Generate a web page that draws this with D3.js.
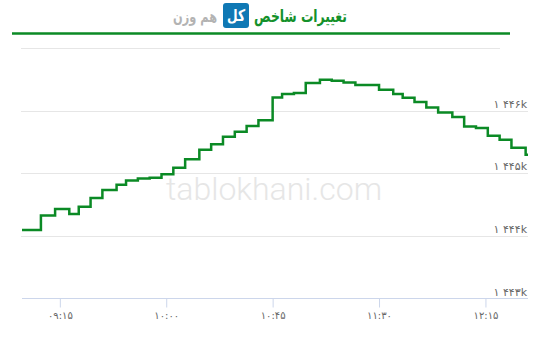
<!DOCTYPE html>
<html>
<head>
<meta charset="utf-8">
<script src="https://cdn.jsdelivr.net/npm/d3@7"></script>
<style>
  body { margin: 0; background: #fff; }
  svg { display: block; font-family: "DejaVu Sans", sans-serif; }
</style>
</head>
<body>
<svg id="chart"></svg>
<script>
// index values (step line)
var times = ["08:59","09:07","09:13","09:19","09:23","09:28","09:33","09:39","09:43","09:48","09:53",
  "09:58","10:03","10:08","10:14","10:19","10:24","10:29","10:34","10:39","10:45","10:49","10:54",
  "10:59","11:05","11:10","11:15","11:20","11:30","11:36","11:40","11:45","11:50","11:55","12:01",
  "12:06","12:11","12:16","12:21","12:26","12:32","12:33"]
var values = [1444100,1444330,1444435,1444355,1444471,1444610,1444738,1444818,1444886,1444918,1444930,
  1444989,1445089,1445228,1445376,1445467,1445584,1445664,1445755,1445850,1446211,1446265,1446281,
  1446441,1446494,1446478,1446451,1446409,1446334,1446265,1446206,1446138,1446052,1445972,1445898,
  1445748,1445723,1445600,1445536,1445408,1445297,1445297]

var yTicks = [1443000,1444000,1445000,1446000]
var yTickLabels = ["۱ ۴۴۳k","۱ ۴۴۴k","۱ ۴۴۵k","۱ ۴۴۶k"]
var xTicks = ["09:15","10:00","10:45","11:30","12:15"]
var xTickLabels = ["۰۹:۱۵","۱۰:۰۰","۱۰:۴۵","۱۱:۳۰","۱۲:۱۵"]

var screen = {width:550, height:347}
var plot = {left:22, right:528, top:48, bottom:299}

var parse = d3.timeParse("%H:%M")
var data = times.map(function(t, i){ return {t: parse(t), v: values[i]} })

var svg = d3.select("#chart")
  .attr("width", screen.width)
  .attr("height", screen.height)

var xScale = d3.scaleTime()
  .domain([parse("08:59"), parse("12:33")])
  .range([plot.left, plot.right])
var yScale = d3.scaleLinear()
  .domain([1443000, 1447000])
  .range([plot.bottom - 0.1, plot.top])

// header
svg.append("text")
  .attr("x", 347).attr("y", 22)
  .attr("text-anchor", "end")
  .attr("textLength", 93).attr("lengthAdjust", "spacingAndGlyphs")
  .style("font-size", "17px").style("font-weight", "bold")
  .attr("fill", "#14912b")
  .text("تغییرات شاخص")
svg.append("rect")
  .attr("x", 223).attr("y", 3).attr("width", 26).attr("height", 25).attr("rx", 3)
  .attr("fill", "#0f78b4")
svg.append("text")
  .attr("x", 236).attr("y", 21)
  .attr("text-anchor", "middle")
  .attr("textLength", 18).attr("lengthAdjust", "spacingAndGlyphs")
  .style("font-size", "16px").style("font-weight", "bold")
  .attr("fill", "#fff")
  .text("کل")
svg.append("text")
  .attr("x", 217).attr("y", 22)
  .attr("text-anchor", "end")
  .attr("textLength", 44).attr("lengthAdjust", "spacingAndGlyphs")
  .style("font-size", "16px").style("font-weight", "bold")
  .attr("fill", "#b3b3b3")
  .text("هم وزن")
svg.append("line")
  .attr("x1", 12).attr("x2", 510).attr("y1", 33.5).attr("y2", 33.5)
  .attr("stroke", "#0b8a25").attr("stroke-width", 2.5)

// watermark
svg.append("text")
  .attr("x", 274).attr("y", 200)
  .attr("text-anchor", "middle")
  .style("font-family", "Roboto").style("font-weight", 300).style("font-size", "32px")
  .attr("fill", "#e6e6e6")
  .text("tablokhani.com")

// grid
svg.append("line")
  .attr("x1", plot.left - 1).attr("x2", 500)
  .attr("y1", Math.round(yScale(1447000)) + 0.5).attr("y2", Math.round(yScale(1447000)) + 0.5)
  .attr("stroke", "#e6e6e6")
svg.append("g").selectAll("line")
  .data(yTicks.slice(1))
  .enter().append("line")
  .attr("x1", plot.left - 1).attr("x2", plot.right)
  .attr("y1", function(d){ return Math.round(yScale(d)) + 0.5 })
  .attr("y2", function(d){ return Math.round(yScale(d)) + 0.5 })
  .attr("stroke", "#e6e6e6")

svg.append("g").selectAll("text")
  .data(yTicks)
  .enter().append("text")
  .attr("x", plot.right - 1)
  .attr("y", function(d){ return yScale(d) - 3 })
  .attr("text-anchor", "end")
  .style("font-size", "11px")
  .attr("fill", "#666")
  .text(function(d, i){ return yTickLabels[i] })

// x axis
var xAxis = d3.axisBottom(xScale)
  .tickValues(xTicks.map(parse))
  .tickSize(9)
  .tickPadding(4)
  .tickFormat(function(d, i){ return xTickLabels[i] })
var gx = svg.append("g")
  .attr("transform", "translate(0," + (plot.bottom - 0.5) + ")")
  .call(xAxis)
gx.select(".domain").attr("stroke", "#ccd6eb").attr("d", "M" + plot.left + ",0H" + plot.right)
gx.selectAll(".tick line").attr("stroke", "#ccd6eb")
gx.selectAll(".tick text").attr("fill", "#666").style("font-size", "10px").style("font-family", "DejaVu Sans")

// line
var line = d3.line()
  .curve(d3.curveStepAfter)
  .x(function(d){ return xScale(d.t) })
  .y(function(d){ return yScale(d.v) })
svg.append("path")
  .datum(data)
  .attr("d", line)
  .attr("fill", "none")
  .attr("stroke", "#0b8a25")
  .attr("stroke-width", 2.5)
</script>
</body>
</html>
